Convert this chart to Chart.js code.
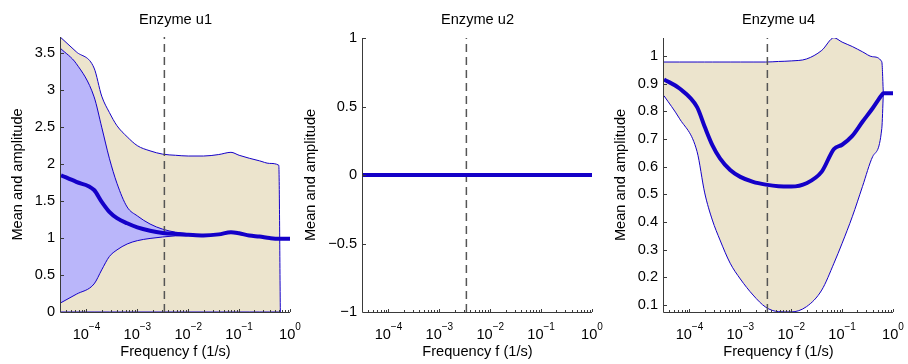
<!DOCTYPE html>
<html>
<head>
<meta charset="utf-8">
<script src="https://cdn.jsdelivr.net/npm/chart.js@4.4.1/dist/chart.umd.min.js"></script>
<style>
html,body{margin:0;padding:0;background:#fff;}
#wrap{position:relative;width:908px;height:364px;overflow:hidden;background:#fff;}
canvas{position:absolute;top:0;}
</style>
</head>
<body>
<div id="wrap">
<canvas id="c1" width="312" height="364" style="left:0px"></canvas>
<canvas id="c2" width="310" height="364" style="left:300px"></canvas>
<canvas id="c3" width="308" height="364" style="left:600px"></canvas>
</div>
<script>
// ---------- shared data ----------
const freq = [3.162e-5, 6.31e-5, 1.413e-4, 1.995e-4, 2.818e-4, 3.981e-4, 6.31e-4, 1e-3,
              1.778e-3, 3.162e-3, 5.623e-3, 0.01, 0.01995, 0.03981, 0.06918, 0.1,
              0.1585, 0.2512, 0.3981, 0.6026, 0.6457, 1];
const xRange = [3.162e-5, 1];
const xTickValues = [1e-4, 1e-3, 1e-2, 1e-1, 1];
const xTickExponents = ['\u22124', '\u22123', '\u22122', '\u22121', '0'];
const markerFreq = 3.4e-3;

// ---------- Enzyme u1 ----------
const u1Title = 'Enzyme u1';
const u1OuterUp = [3.71, 3.52, 3.30, 2.92, 2.70, 2.52, 2.37, 2.25, 2.18, 2.135, 2.12, 2.11,
                   2.11, 2.13, 2.16, 2.12, 2.08, 2.045, 2.01, 1.985, 0, null];
const u1OuterLo = [0, 0, 0, 0, 0, 0, 0, 0, 0, 0, 0, 0, 0, 0, 0, 0, 0, 0, 0, 0, 0, null];
const u1InnerUp = [3.56, 3.36, 2.91, 2.50, 2.08, 1.74, 1.42, 1.30, 1.19, 1.12, 1.08, 1.06,
                   1.04, 1.05, 1.08, 1.065, 1.035, 1.02, 1.0, 0.99, null, null];
const u1InnerLo = [0.126, 0.24, 0.38, 0.57, 0.75, 0.84, 0.92, 0.965, 0.995, 1.015, 1.03, 1.035,
                   1.03, 1.045, 1.075, 1.06, 1.03, 1.015, 0.995, 0.985, null, null];
const u1Mean = [1.85, 1.76, 1.65, 1.49, 1.355, 1.27, 1.20, 1.145, 1.10, 1.07, 1.055, 1.045,
                1.035, 1.05, 1.08, 1.065, 1.035, 1.02, 1.0, 0.99, 0.99, 0.99];
const u1YTicks = [0, 0.5, 1, 1.5, 2, 2.5, 3, 3.5];
const u1YRange = [0, 3.72];

// ---------- Enzyme u2 ----------
const u2Title = 'Enzyme u2';
const u2Mean = [0, 0, 0, 0, 0, 0, 0, 0, 0, 0, 0, 0, 0, 0, 0, 0, 0, 0, 0, 0, 0, 0];
const u2YTicks = [-1, -0.5, 0, 0.5, 1];
const u2YRange = [-1, 1];

// ---------- Enzyme u4 ----------
const u3Title = 'Enzyme u4';
const u3Upper = [0.978, 0.978, 0.978, 0.978, 0.978, 0.978, 0.978, 0.978, 0.978, 0.978, 0.980, 0.982,
                 0.989, 1.02, 1.066, 1.05, 1.034, 1.015, 0.997, 0.979, 0.865, null];
const u3Lower = [0.856, 0.775, 0.654, 0.505, 0.407, 0.335, 0.251, 0.194, 0.136, 0.092, 0.076, 0.075,
                 0.094, 0.154, 0.251, 0.323, 0.419, 0.528, 0.636, 0.738, 0.865, null];
const u3Mean = [0.915, 0.883, 0.815, 0.744, 0.678, 0.63, 0.588, 0.563, 0.545, 0.535, 0.529, 0.528,
                0.54, 0.582, 0.664, 0.679, 0.711, 0.762, 0.811, 0.859, 0.865, 0.865];
const u3YTicks = [0.1, 0.2, 0.3, 0.4, 0.5, 0.6, 0.7, 0.8, 0.9, 1];
const u3YRange = [0.0747, 1.0648];

// ---------- styling ----------
const FONT = '"Liberation Sans", Arial, Helvetica, sans-serif';
const FS = 14.6;
const TEXT = '#000';
const AXIS = '#3a3a3a';
const LINE = '#1400c8';
const BEIGE = '#ece4cd';
const PURPLE = '#bab6fa';
const DASH = '#555555';

Chart.defaults.font.family = FONT;
Chart.defaults.font.size = FS;
Chart.defaults.color = TEXT;

const pts = arr => freq.map((f, i) => ({x: f, y: arr[i]}));

function lineDS(arr, opts) {
  return Object.assign({
    data: pts(arr), borderColor: LINE, borderWidth: 1, pointRadius: 0,
    fill: false, cubicInterpolationMode: 'monotone', spanGaps: false
  }, opts);
}
function dashDS(yr) {
  return {data: [{x: markerFreq, y: yr[0]}, {x: markerFreq, y: yr[1]}],
          borderColor: DASH, borderWidth: 1.5, borderDash: [8, 5], pointRadius: 0,
          fill: false, order: 1};
}

const axesPlugin = {
  id: 'matlabAxes',
  afterDatasetsDraw(chart) {
    const {ctx, chartArea: a, scales: {x, y}} = chart;
    ctx.save();
    ctx.strokeStyle = AXIS;
    ctx.lineWidth = 1;
    ctx.beginPath();
    y.ticks.forEach(t => {
      const py = Math.round(y.getPixelForValue(t.value)) + 0.5;
      ctx.moveTo(a.left, py); ctx.lineTo(a.left + 3, py);
    });
    xTickValues.forEach(v => {
      const px = Math.round(x.getPixelForValue(v)) + 0.5;
      ctx.moveTo(px, a.bottom); ctx.lineTo(px, a.bottom - 3);
    });
    for (let n = -5; n <= -1; n++) {
      for (let k = 2; k <= 9; k++) {
        const v = k * Math.pow(10, n);
        if (v < xRange[0] || v > xRange[1]) continue;
        const px = Math.round(x.getPixelForValue(v)) + 0.5;
        ctx.moveTo(px, a.bottom); ctx.lineTo(px, a.bottom - 2);
      }
    }
    ctx.stroke();
    ctx.beginPath();
    ctx.moveTo(a.left - 0.5, a.top);
    ctx.lineTo(a.left - 0.5, a.bottom + 0.5);
    ctx.lineTo(a.right, a.bottom + 0.5);
    ctx.stroke();
    // x tick labels with superscript exponents
    ctx.fillStyle = TEXT;
    ctx.textBaseline = 'alphabetic';
    ctx.textAlign = 'left';
    xTickValues.forEach((v, i) => {
      const px = x.getPixelForValue(v);
      ctx.font = FS + 'px ' + FONT;
      const w1 = ctx.measureText('10').width;
      ctx.font = '10px ' + FONT;
      const w2 = ctx.measureText(xTickExponents[i]).width;
      const start = px - (w1 + w2) / 2;
      ctx.font = FS + 'px ' + FONT;
      ctx.fillText('10', start, 338.5);
      ctx.font = '10px ' + FONT;
      ctx.fillText(xTickExponents[i], start + w1, 329.5);
    });
    ctx.restore();
  }
};

function makeChart(id, title, datasets, yRange, yTicks, cfg) {
  return new Chart(document.getElementById(id), {
    type: 'line',
    data: {datasets},
    options: {
      responsive: false, animation: false, devicePixelRatio: 1,
      layout: {padding: {left: 0, right: cfg.padRight, top: 0, bottom: 0}},
      plugins: {
        legend: {display: false}, tooltip: {enabled: false},
        title: {display: true, text: title, fullSize: false, color: TEXT,
                font: {size: FS, weight: 'normal'},
                padding: {top: 11.7, bottom: cfg.top - 11.7 - FS * 1.2}}
      },
      scales: {
        x: {
          type: 'logarithmic', min: xRange[0], max: xRange[1],
          ticks: {display: false}, grid: {display: false, drawTicks: false},
          border: {display: false},
          title: {display: true, text: 'Frequency f (1/s)', color: TEXT,
                  font: {size: FS}, padding: {top: 0, bottom: 3.6}},
          afterFit: s => { s.height = 52; }
        },
        y: {
          type: 'linear', min: yRange[0], max: yRange[1],
          afterBuildTicks: s => { s.ticks = yTicks.map(v => ({value: v})); },
          ticks: {padding: 6, color: TEXT, font: {size: FS},
                  callback: v => String(v).replace('-', '\u2212')},
          grid: {display: false, drawTicks: false},
          border: {display: false},
          title: {display: true, text: 'Mean and amplitude', color: TEXT,
                  font: {size: FS}, padding: {top: cfg.yTitlePad, bottom: 0}},
          afterFit: s => { s.width = cfg.left; }
        }
      }
    },
    plugins: [axesPlugin]
  });
}

makeChart('c1', u1Title, [
  lineDS(u1Mean, {borderWidth: 4, order: 0}),
  dashDS(u1YRange),
  lineDS(u1InnerUp, {order: 3, fill: 3, backgroundColor: PURPLE}),
  lineDS(u1InnerLo, {order: 2}),
  lineDS(u1OuterUp, {order: 5, fill: 5, backgroundColor: BEIGE}),
  lineDS(u1OuterLo, {order: 4})
], u1YRange, u1YTicks, {padRight: 22, top: 37, left: 61, yTitlePad: 9.2});

makeChart('c2', u2Title, [
  lineDS(u2Mean, {borderWidth: 4, order: 0}),
  dashDS(u2YRange)
], u2YRange, u2YTicks, {padRight: 18, top: 38, left: 63, yTitlePad: 2.5});

makeChart('c3', u3Title, [
  lineDS(u3Mean, {borderWidth: 4, order: 0}),
  dashDS(u3YRange),
  lineDS(u3Lower, {order: 2}),
  lineDS(u3Upper, {order: 3, fill: 2, backgroundColor: BEIGE})
], u3YRange, u3YTicks, {padRight: 15, top: 38, left: 64, yTitlePad: 12.5});
</script>
</body>
</html>
